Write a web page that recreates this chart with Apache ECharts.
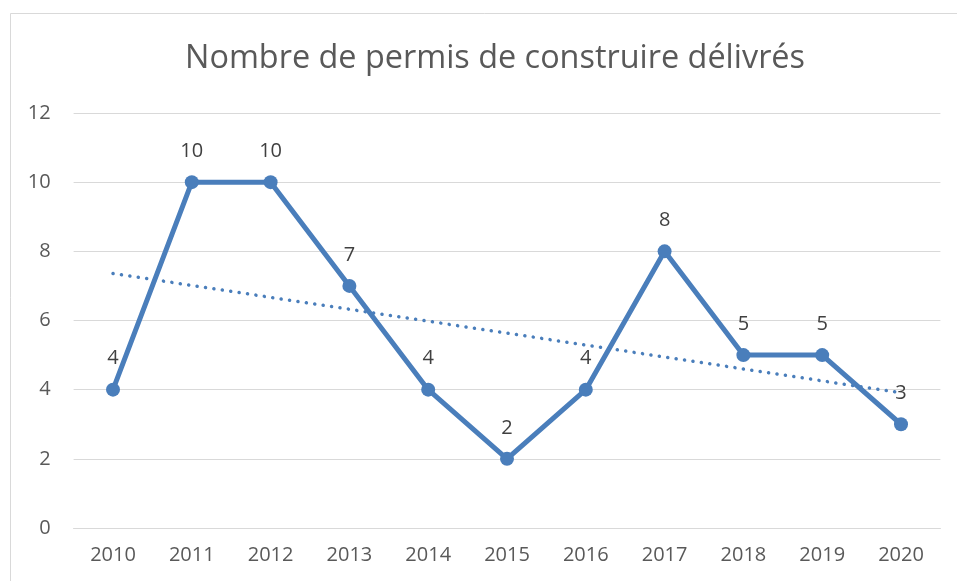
<!DOCTYPE html>
<html>
<head>
<meta charset="utf-8">
<script src="https://cdn.jsdelivr.net/npm/echarts@6/dist/echarts.min.js"></script>
<style>
  html, body { margin: 0; padding: 0; background: #ffffff; }
  #chart { width: 957px; height: 581px; }
</style>
</head>
<body>
<div id="chart"></div>
<script>
// Permits issued per year
const years = ['2010', '2011', '2012', '2013', '2014', '2015', '2016', '2017', '2018', '2019', '2020'];
const permits = [4, 10, 10, 7, 4, 2, 4, 8, 5, 5, 3];
// Linear trend: value at the first and last year
const trendEnds = [7.36, 3.91];
const yTicks = [0, 2, 4, 6, 8, 10, 12];

const trendData = years.map(function (_, i) {
  if (i === 0) return trendEnds[0];
  if (i === years.length - 1) return trendEnds[1];
  return null;
});

const blue = '#4a7ebb';
const textGray = '#595959';
const fontFamily = '"Open Sans", "Liberation Sans", sans-serif';

const chart = echarts.init(document.getElementById('chart'), null, { renderer: 'canvas' });
chart.setOption({
  animation: false,
  backgroundColor: '#ffffff',
  graphic: [{
    type: 'rect',
    shape: { x: 10.5, y: 13.5, width: 1000, height: 700 },
    style: { fill: 'none', stroke: '#d9d9d9', lineWidth: 1 },
    silent: true
  }],
  title: {
    text: 'Nombre de permis de construire délivrés',
    left: 490,
    textAlign: 'center',
    top: 38,
    textStyle: { fontFamily: fontFamily, fontSize: 32.4, fontWeight: 'normal', color: textGray }
  },
  grid: { left: 73.6, right: 16.6, top: 113, bottom: 53 },
  xAxis: {
    type: 'category',
    data: years,
    boundaryGap: true,
    axisLine: { show: true, lineStyle: { color: '#d9d9d9', width: 1 } },
    axisTick: { show: false },
    axisLabel: { color: textGray, fontFamily: fontFamily, fontSize: 20, margin: 17 }
  },
  yAxis: {
    type: 'value',
    min: yTicks[0],
    max: yTicks[yTicks.length - 1],
    interval: 2,
    axisLine: { show: false },
    axisTick: { show: false },
    splitLine: { lineStyle: { color: '#d9d9d9', width: 1 } },
    axisLabel: { color: textGray, fontFamily: fontFamily, fontSize: 20, margin: 23 }
  },
  series: [
    {
      name: 'Permis',
      type: 'line',
      data: permits,
      symbol: 'circle',
      symbolSize: 14,
      itemStyle: { color: blue },
      lineStyle: { color: blue, width: 5 },
      label: {
        show: true,
        position: 'top',
        distance: 14,
        color: '#404040',
        fontFamily: fontFamily,
        fontSize: 20
      },
      z: 3
    },
    {
      name: 'Tendance',
      type: 'line',
      data: trendData,
      connectNulls: true,
      symbol: 'none',
      lineStyle: { color: blue, width: 3.5, type: [0.1, 8.4], cap: 'round' },
      z: 2
    }
  ]
});
</script>
</body>
</html>
